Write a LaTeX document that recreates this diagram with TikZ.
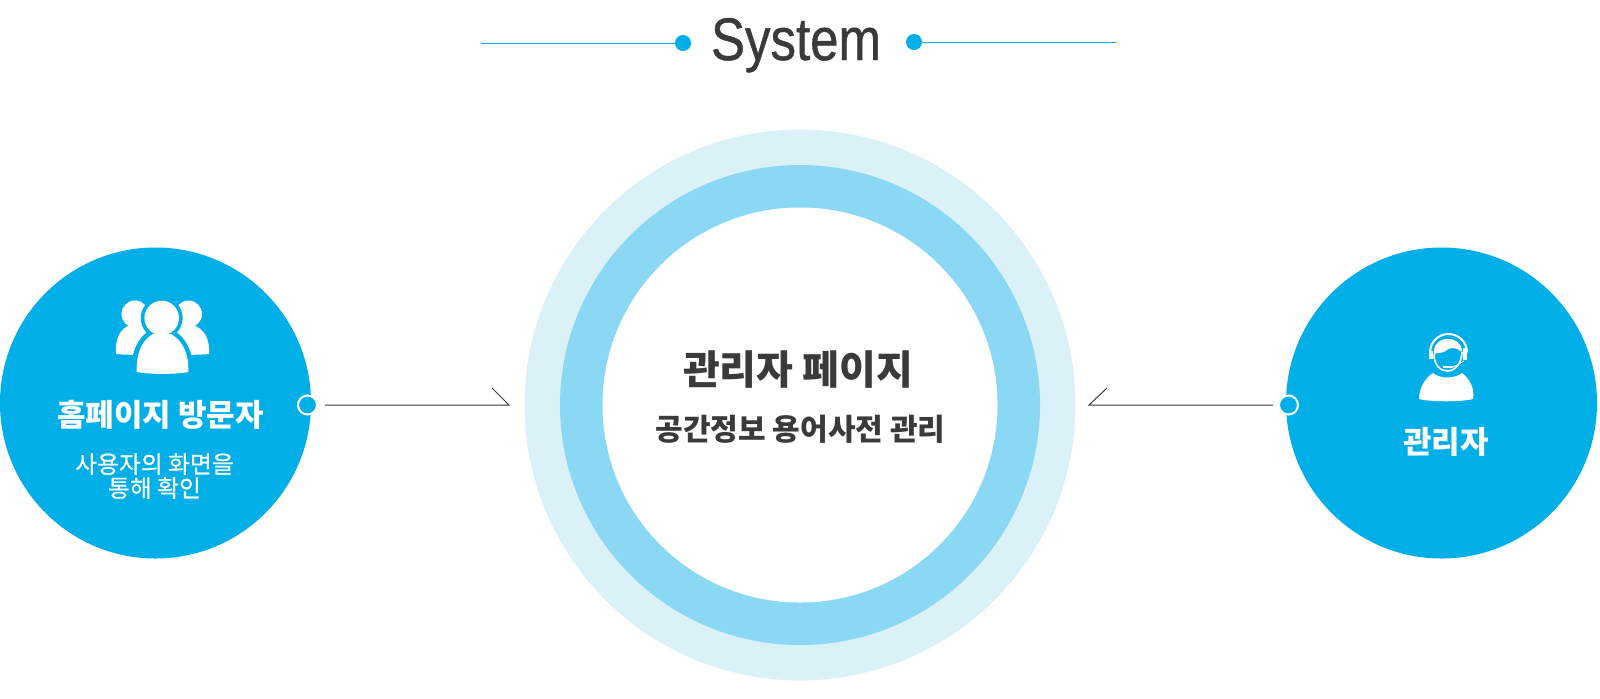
\documentclass[tikz,border=0pt]{standalone}
\usepackage{fontspec}
\setmainfont{Liberation Sans}
\newfontfamily\titlefont[FakeBold=.8]{Liberation Sans}
\newfontfamily\krfont{Noto Sans CJK KR}
\newfontfamily\krmedium[FakeBold=.5]{Noto Sans CJK KR}
\usepackage{tikz}
\definecolor{skyblue}{HTML}{00AEE8}
\definecolor{midblue}{HTML}{8BD8F4}
\definecolor{paleblue}{HTML}{DBF1F8}
\definecolor{darktext}{HTML}{3A3A3A}
\tikzstyle{ring} = [circle, inner sep=0pt]
\tikzstyle{actor} = [ring, fill=skyblue, minimum size=155.5pt]
\tikzstyle{port} = [ring, fill=skyblue, draw=white, line width=1pt, minimum size=9.5pt]
\tikzstyle{titledot} = [ring, fill=skyblue, minimum size=8pt]
\tikzstyle{titleline} = [draw=skyblue, line width=.5pt]
\tikzstyle{arrowline} = [draw=darktext, line width=.5pt]
\tikzstyle{whitehead} = [font={\krfont\bfseries\fontsize{15.5}{18}\selectfont}, text=white, align=center]
\tikzstyle{whitesub} = [font={\krmedium\fontsize{11.9}{13}\selectfont}, text=white, align=center]
\tikzstyle{darkhead} = [font={\krfont\bfseries\fontsize{20}{24}\selectfont}, text=darktext]
\tikzstyle{darksub} = [font={\krfont\bfseries\fontsize{15}{18}\selectfont}, text=darktext]

\begin{document}
\begin{tikzpicture}[x=.5pt,y=-.5pt]
    \useasboundingbox (0,0) rectangle (1600,698);
    % title
    \node[font=\titlefont\fontsize{30}{36}\selectfont, text=darktext, xscale=.85, transform shape, anchor=base](title) at (796,60){System};
    \node[titledot](dot1) at (683,43){};
    \node[titledot](dot2) at (914,42){};
    \coordinate (end1) at (481,43);
    \coordinate (end2) at (1116,42);
    \draw[titleline](dot1)--(end1);
    \draw[titleline](dot2)--(end2);
    % rings
    \node[ring,fill=paleblue,minimum size=275.5pt](outer) at (800,405){};
    \node[ring,fill=midblue,minimum size=240pt](middle) at (800,405){};
    \node[ring,fill=white,minimum size=197.5pt](inner) at (800,405){};
    \node[darkhead](page) at (798,370){관리자 페이지};
    \node[darksub](space) at (800.5,429.5){공간정보 용어사전 관리};
    % actors
    \node[actor](visitor) at (155.5,403){};
    \node[actor](admin) at (1441.5,403){};
    \node[port](port1) at (307.5,405){};
    \node[port](port2) at (1288.5,405){};
    \node[whitehead](visitorname) at (160.5,415){홈페이지 방문자};
    \node[whitesub](visitortext) at (154.5,476){사용자의 화면을\\[-1pt]통해 확인};
    \node[whitehead](adminname) at (1446,442){관리자};
    % arrows
    \coordinate (tip1) at (509,405);
    \coordinate (barb1) at (492,388);
    \coordinate (tip2) at (1089,405);
    \coordinate (barb2) at (1107,388);
    \draw[arrowline,shorten <=3.5pt](port1)--(tip1)--(barb1);
    \draw[arrowline,shorten <=2.5pt](port2)--(tip2)--(barb2);
    % visitors icon
    \fill[white] (135,314) circle (13.5);
    \fill[white] (188.5,314) circle (13.5);
    \fill[white] (116,354) .. controls (115,338) and (120,329) .. (130,325) -- (193,325) .. controls (204,329) and (210,338) .. (209,354) .. controls (195,355.5) and (129,355.5) .. (116,354) -- cycle;
    \fill[skyblue] (161.7,318) circle (21);
    \fill[skyblue] (131,376) .. controls (130,350) and (140,335) .. (152,329) -- (171,329) .. controls (184,335) and (194,350) .. (194,376) -- cycle;
    \fill[white] (161.7,318) circle (17.3);
    \fill[white] (136.7,372) .. controls (136,350) and (144,339) .. (153,334) -- (171,334) .. controls (180,339) and (189,350) .. (188.3,372) .. controls (175,374.5) and (149,374.5) .. (136.7,372) -- cycle;
    % admin icon
    \fill[white] (1419,399) .. controls (1419,388) and (1425,378) .. (1433,373) .. controls (1440,379) and (1454,379) .. (1462,373) .. controls (1469,378) and (1475,388) .. (1473,399) .. controls (1462,402) and (1430,402) .. (1419,399) -- cycle;
    \draw[white,line width=1pt] (1430,352.5) arc (180:360:18.5);
    \draw[white,line width=.8pt] (1434,354) .. controls (1434,377) and (1461,377) .. (1462,352);
    \fill[white] (1434,354) .. controls (1432,334) and (1462,334) .. (1462,352) .. controls (1456,347) and (1450,347) .. (1447,350) .. controls (1443,354) and (1438,352) .. (1434,354) -- cycle;
    \fill[white] (1463,348) rectangle (1467,360);
    \fill[white] (1429,351) rectangle (1432.5,359);
    \draw[white,line width=1.2pt] (1443,367) -- (1453,367);
    \draw[white,line width=.5pt] (1453,367) -- (1464,361);
\end{tikzpicture}
\end{document}
